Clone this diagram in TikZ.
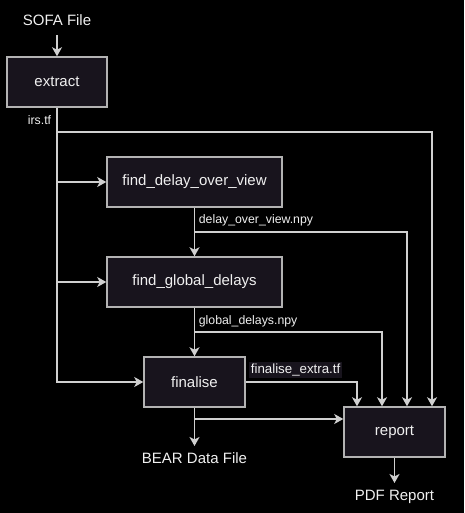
\documentclass[tikz,border=0pt]{standalone}
\usepackage{fontspec}
\setmainfont{Liberation Sans}
\usetikzlibrary{arrows.meta}

\definecolor{boxfill}{RGB}{24,20,29}
\definecolor{boxline}{RGB}{179,179,179}
\definecolor{wireline}{RGB}{208,208,208}
\definecolor{inktext}{RGB}{240,240,240}

\tikzset{every picture/.style={line width=0.75pt}}
\tikzset{
  stage/.style={draw=boxline, fill=boxfill, text=inktext, line width=1.5pt,
    minimum height=50, inner sep=0pt, font=\fontsize{15}{18}\selectfont},
  terminal/.style={text=inktext, font=\fontsize{15}{18}\selectfont,
    text height=11pt, text depth=3pt, inner sep=2pt, outer sep=4pt},
  wire/.style={draw=wireline, line width=1.5pt,
    -{Stealth[length=9pt,width=10pt,inset=2.5pt]}},
  wirelabel/.style={text=inktext, inner sep=1.5pt, font=\fontsize{12.3}{15}\selectfont}
}

\begin{document}
\begin{tikzpicture}[x=1pt,y=1pt,yscale=-1]
%background, sets the size of the diagram
\fill [black] (0,0) rectangle (464,513);
\useasboundingbox (0,0) rectangle (464,513);

% Stage Nodes
\node [stage, minimum width=100] (extract) at (57,82) {extract};
\node [stage, minimum width=175] (delayview) at (194.5,182) {find\_delay\_over\_view};
\node [stage, minimum width=175] (globaldelays) at (194.5,282) {find\_global\_delays};
\node [stage, minimum width=101] (finalise) at (194.5,382) {finalise};
\node [stage, minimum width=101] (report) at (394.5,432) {report};

% Text Node
\node [terminal] (sofa) at (57,22) {SOFA File};
% Text Node
\node [terminal] (bear) at (194.5,459) {BEAR Data File};
% Text Node
\node [terminal] (pdf) at (394.5,496) {PDF Report};

%Straight Lines, input and outputs
\draw [wire] (sofa) -- (extract);
\draw [wire] (finalise.south) -- (bear);
\draw [wire] (report.south) -- (pdf);

%Straight Lines, irs.tf trunk
\draw [wire] (extract.south) |- (finalise.west);
\draw [wire] (extract.south |- delayview.west) -- (delayview.west);
\draw [wire] (extract.south |- globaldelays.west) -- (globaldelays.west);
\draw [wire] (extract.south |- 0,132) -| ([xshift=37.5pt]report.north);

%Straight Lines, stage to stage
\draw [wire] (delayview.south) -- (globaldelays.north);
\draw [wire] (delayview.south |- 0,232) -| ([xshift=12.5pt]report.north);
\draw [wire] (globaldelays.south) -- (finalise.north);
\draw [wire] (globaldelays.south |- 0,332) -| ([xshift=-12.5pt]report.north);
\draw [wire] (finalise.east) -| ([xshift=-37.5pt]report.north);
\draw [wire] (finalise.south |- 0,419) -- (report.west |- 0,419);

% Text Node
\node [wirelabel, anchor=east] (irslbl) at (53,120) {irs.tf};
% Text Node
\node [wirelabel, anchor=west] (delaylbl) at (197,220) {delay\_over\_view.npy};
% Text Node
\node [wirelabel, anchor=west] (globallbl) at (197,321) {global\_delays.npy};
% Text Node
\node [wirelabel, anchor=west, fill=boxfill, font=\fontsize{13.3}{16}\selectfont] (extralbl) at (249,370) {finalise\_extra.tf};

\end{tikzpicture}
\end{document}
